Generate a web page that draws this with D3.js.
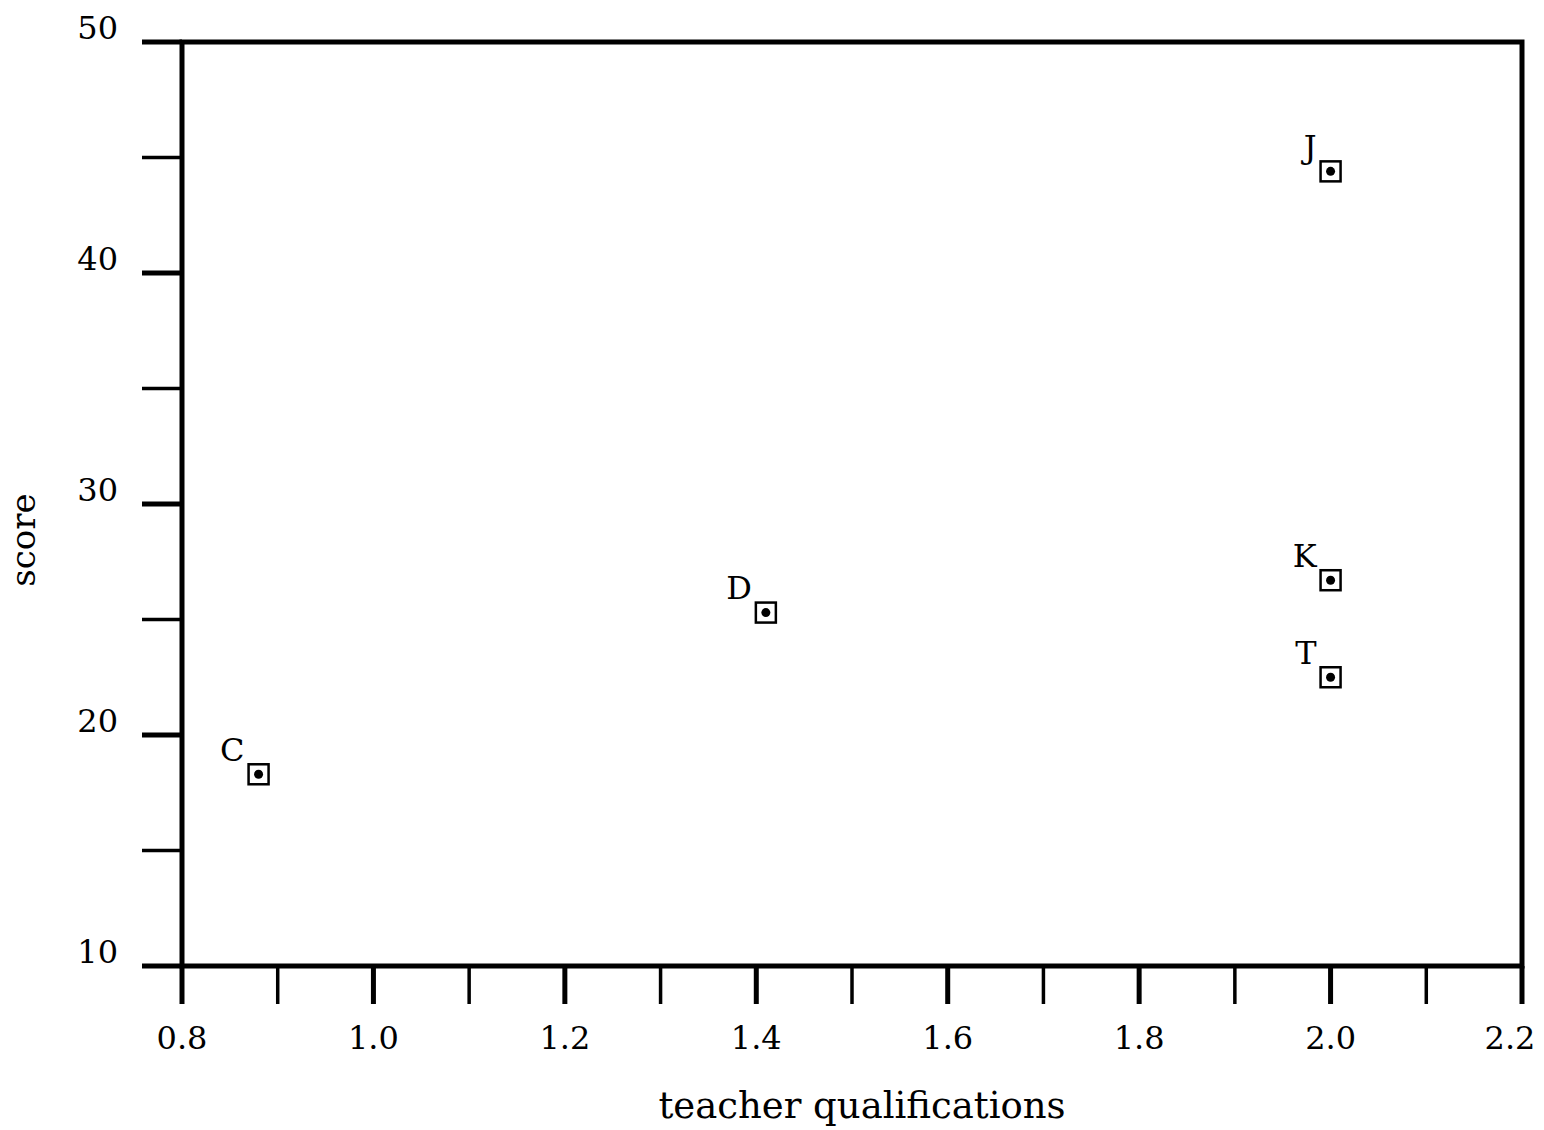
<!DOCTYPE html>
<html>
<head>
<meta charset="utf-8">
<script src="https://cdn.jsdelivr.net/npm/d3@7"></script>
<style>
  body { margin: 0; background: #fff; }
  text { font-family: "DejaVu Serif", "Liberation Serif", serif; fill: #000; }
</style>
</head>
<body>
<script>
// data
const schools = ["C", "D", "J", "K", "T"];
const qualifications = [0.88, 1.41, 2.0, 2.0, 2.0];
const scores = [18.3, 25.3, 44.4, 26.7, 22.5];
const xTicks = [0.8, 1.0, 1.2, 1.4, 1.6, 1.8, 2.0, 2.2];
const yTicks = [10, 20, 30, 40, 50];

let margin = {top: 42, left: 182, bottom: 164, right: 22},
    width = 1544 - margin.left - margin.right,
    height = 1130 - margin.top - margin.bottom;

let svg = d3.select("body").append("svg")
    .attr("width", 1544)
    .attr("height", 1130)
  .append("g")
    .attr("transform", `translate(${margin.left}, ${margin.top})`);

let x = d3.scaleLinear().domain([0.8, 2.2]).range([0, width]);
let y = d3.scaleLinear().domain([10, 50]).range([height, 0]);

// frame
svg.append("rect")
  .attr("x", 0).attr("y", 0)
  .attr("width", width).attr("height", height)
  .attr("fill", "none").attr("stroke", "#000").attr("stroke-width", 5);

// y ticks, every 5
svg.selectAll(".ytick")
  .data(d3.range(10, 51, 5))
  .enter().append("line")
  .attr("x1", -40).attr("x2", 0)
  .attr("y1", d => y(d)).attr("y2", d => y(d))
  .attr("stroke", "#000")
  .attr("stroke-width", d => d % 10 === 0 ? 5 : 3.5);

svg.selectAll(".ylab")
  .data(yTicks)
  .enter().append("text")
  .attr("x", -64).attr("y", d => y(d) - 12)
  .attr("text-anchor", "end")
  .attr("dominant-baseline", "middle")
  .style("font-size", "32px")
  .text(d => d);

// x ticks, every 0.1
svg.selectAll(".xtick")
  .data(d3.range(0, 15).map(i => 0.8 + i * 0.1))
  .enter().append("line")
  .attr("x1", d => x(d)).attr("x2", d => x(d))
  .attr("y1", height).attr("y2", height + 38)
  .attr("stroke", "#000")
  .attr("stroke-width", (d, i) => i % 2 === 0 ? 5 : 3.5);

svg.selectAll(".xlab")
  .data(xTicks)
  .enter().append("text")
  .attr("x", (d, i) => x(d) - (i === xTicks.length - 1 ? 12 : 0))
  .attr("y", height + 74)
  .attr("text-anchor", "middle")
  .attr("dominant-baseline", "middle")
  .style("font-size", "32px")
  .text(d => d.toFixed(1));

// axis titles
svg.append("text")
  .attr("x", width / 2 + 10).attr("y", height + 142)
  .attr("text-anchor", "middle")
  .attr("dominant-baseline", "middle")
  .style("font-size", "37px")
  .text("teacher qualifications");

svg.append("text")
  .attr("transform", `translate(${-156}, ${y(30) + 36}) rotate(-90)`)
  .attr("text-anchor", "middle")
  .attr("dominant-baseline", "middle")
  .style("font-size", "34px")
  .text("score");

// points
let pts = svg.selectAll(".pt")
  .data(schools)
  .enter().append("g")
  .attr("transform", (d, i) => `translate(${x(qualifications[i])}, ${y(scores[i])})`);

pts.append("rect")
  .attr("x", -10).attr("y", -10)
  .attr("width", 20).attr("height", 20)
  .attr("fill", "none").attr("stroke", "#000").attr("stroke-width", 2.5);

pts.append("circle")
  .attr("r", 4.5)
  .attr("fill", "#000");

pts.append("text")
  .attr("x", -14).attr("y", -22)
  .attr("text-anchor", "end")
  .attr("dominant-baseline", "middle")
  .style("font-size", "32px")
  .text(d => d);
</script>
</body>
</html>
